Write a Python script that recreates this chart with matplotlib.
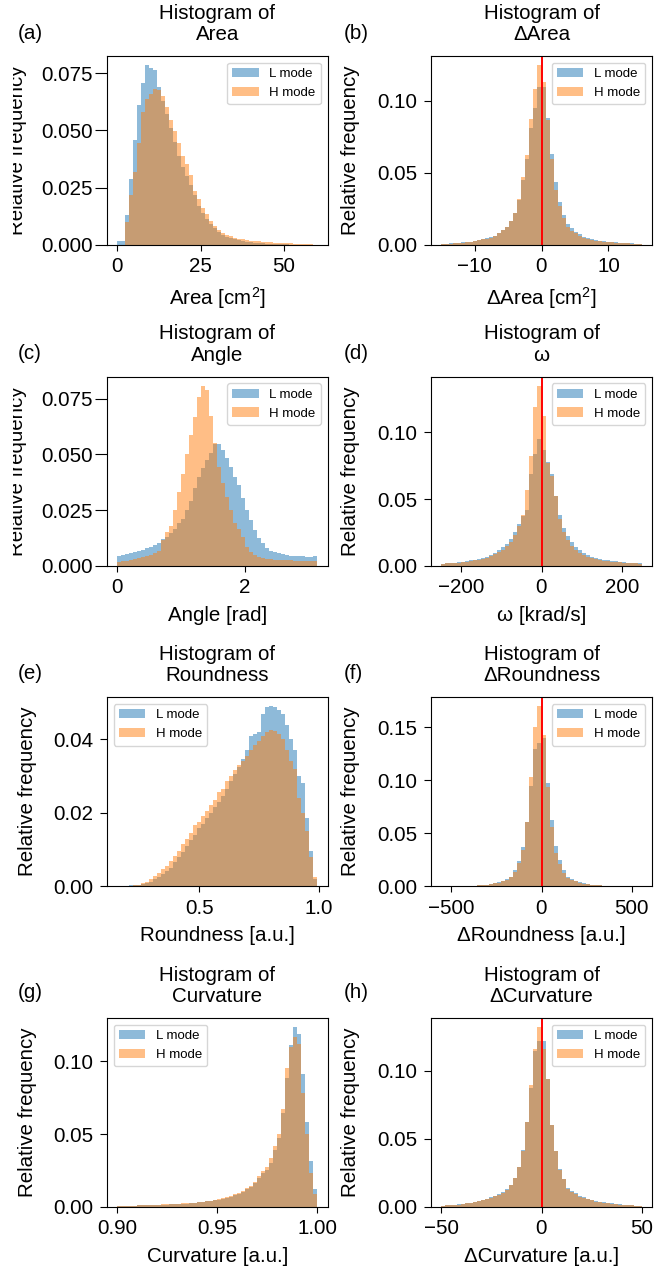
import numpy as np
import matplotlib
matplotlib.use("Agg")
import matplotlib.pyplot as plt
from matplotlib.patches import Rectangle

plt.rcParams['font.family'] = ['Liberation Sans', 'DejaVu Sans']
plt.rcParams['mathtext.fontset'] = 'custom'
plt.rcParams['mathtext.rm'] = 'Liberation Sans'
plt.rcParams['mathtext.it'] = 'Liberation Sans:italic'
plt.rcParams['mathtext.bf'] = 'Liberation Sans:bold'

# ---------------- data (relative frequency per bin, 50 bins each) ----------------
area_range = (0.0, 60.0)
area_L = [0.0016, 0.0016, 0.013, 0.029, 0.046, 0.061, 0.0706, 0.0785, 0.077, 0.0763,
          0.069, 0.063, 0.057, 0.051, 0.045, 0.039, 0.034, 0.030, 0.026, 0.022,
          0.017, 0.014, 0.0115, 0.009, 0.0072, 0.0058, 0.0045, 0.0036, 0.003, 0.0025,
          0.002, 0.0017, 0.0014, 0.0012, 0.001, 0.0008, 0.0007, 0.0006, 0.0005, 0.0004,
          0.0004, 0.0003, 0.0003, 0.0002, 0.0002, 0.0002, 0.0001, 0.0001, 0.0001, 0.0001]
area_H = [0.0, 0.0, 0.0102, 0.022, 0.032, 0.0446, 0.058, 0.0636, 0.066, 0.068,
          0.0677, 0.065, 0.060, 0.0545, 0.0497, 0.0443, 0.0387, 0.0355, 0.0304, 0.0234,
          0.020, 0.016, 0.0136, 0.0105, 0.0085, 0.0066, 0.0051, 0.0042, 0.0039, 0.0032,
          0.0028, 0.0025, 0.0022, 0.0019, 0.0019, 0.0016, 0.0015, 0.0013, 0.0013, 0.0010,
          0.0010, 0.0009, 0.0008, 0.0007, 0.0006, 0.0005, 0.0004, 0.0003, 0.0003, 0.0002]

darea_range = (-15.0, 15.0)
darea_L = [0.0008, 0.0009, 0.0011, 0.0013, 0.0015, 0.0018, 0.0021, 0.0024, 0.003, 0.0035,
           0.0042, 0.0047, 0.0053, 0.0065, 0.008, 0.0105, 0.0128, 0.017, 0.022, 0.031,
           0.045, 0.060, 0.081, 0.095, 0.110, 0.110, 0.088, 0.0635, 0.0435, 0.030,
           0.021, 0.0147, 0.0116, 0.0093, 0.0074, 0.0058, 0.0047, 0.004, 0.0035, 0.003,
           0.0027, 0.0024, 0.0021, 0.0019, 0.0017, 0.0015, 0.0013, 0.0011, 0.0009, 0.0008]
darea_H = [0.0008, 0.0009, 0.001, 0.0012, 0.0014, 0.0017, 0.002, 0.0023, 0.0028, 0.0033,
           0.004, 0.0045, 0.0052, 0.0064, 0.008, 0.0105, 0.0128, 0.017, 0.022, 0.032,
           0.047, 0.0623, 0.0877, 0.1086, 0.125, 0.113, 0.087, 0.060, 0.038, 0.027,
           0.019, 0.0128, 0.010, 0.008, 0.0063, 0.005, 0.0042, 0.0036, 0.0031, 0.0027,
           0.0024, 0.0022, 0.0019, 0.0017, 0.0015, 0.0014, 0.0012, 0.001, 0.0009, 0.0007]

angle_range = (0.0, np.pi)
angle_L = [0.0045, 0.0048, 0.0052, 0.0056, 0.0060, 0.0066, 0.0072, 0.0078, 0.0085, 0.0093,
           0.0103, 0.0118, 0.013, 0.0148, 0.0165, 0.019, 0.021, 0.025, 0.029, 0.0348,
           0.040, 0.0438, 0.0475, 0.0505, 0.0548, 0.0545, 0.052, 0.0485, 0.0445, 0.040,
           0.0363, 0.0303, 0.025, 0.0205, 0.016, 0.0123, 0.010, 0.0081, 0.0068, 0.0062,
           0.0055, 0.0051, 0.0048, 0.0045, 0.0044, 0.0043, 0.0042, 0.0041, 0.0040, 0.0042]
angle_H = [0.0018, 0.0020, 0.0023, 0.0026, 0.0029, 0.0033, 0.0037, 0.0042, 0.0048, 0.0056,
           0.0066, 0.0115, 0.015, 0.018, 0.025, 0.033, 0.041, 0.050, 0.0588, 0.0667,
           0.0757, 0.0809, 0.079, 0.0675, 0.055, 0.0445, 0.037, 0.031, 0.025, 0.019,
           0.0163, 0.013, 0.0085, 0.0063, 0.0048, 0.0037, 0.0033, 0.0030, 0.0028, 0.0027,
           0.0026, 0.0025, 0.0024, 0.0024, 0.0023, 0.0023, 0.0022, 0.0022, 0.0022, 0.0022]

omega_range = (-250.0, 250.0)
omega_L = [0.0015, 0.002, 0.0022, 0.0024, 0.0027, 0.003, 0.0035, 0.004, 0.0046, 0.0052,
           0.006, 0.0068, 0.008, 0.0095, 0.0115, 0.014, 0.0165, 0.020, 0.025, 0.031,
           0.037, 0.042, 0.069, 0.084, 0.095, 0.087, 0.078, 0.069, 0.052, 0.038,
           0.028, 0.022, 0.0175, 0.014, 0.0115, 0.0095, 0.008, 0.0068, 0.0058, 0.005,
           0.0044, 0.004, 0.0036, 0.0032, 0.0029, 0.0026, 0.0024, 0.0022, 0.002, 0.0017]
omega_H = [0.0013, 0.0017, 0.0019, 0.0021, 0.0024, 0.0027, 0.003, 0.0035, 0.004, 0.0045,
           0.0052, 0.006, 0.007, 0.0085, 0.010, 0.012, 0.015, 0.018, 0.023, 0.030,
           0.038, 0.057, 0.082, 0.119, 0.135, 0.112, 0.077, 0.067, 0.052, 0.035,
           0.025, 0.019, 0.015, 0.012, 0.0095, 0.008, 0.0068, 0.0058, 0.005, 0.0044,
           0.0039, 0.0035, 0.0031, 0.0028, 0.0026, 0.0024, 0.0022, 0.002, 0.0018, 0.0016]

round_range = (0.157, 0.993)
round_L = [0.0001, 0.0001, 0.0001, 0.0002, 0.0003, 0.0004, 0.0005, 0.0008, 0.0012, 0.0018,
           0.0025, 0.0032, 0.004, 0.005, 0.0065, 0.0078, 0.0093, 0.0108, 0.0125, 0.014,
           0.0158, 0.017, 0.0185, 0.020, 0.0215, 0.023, 0.0245, 0.0265, 0.0285, 0.0305,
           0.0325, 0.0345, 0.037, 0.041, 0.0415, 0.042, 0.047, 0.0487, 0.049, 0.0487,
           0.048, 0.047, 0.044, 0.040, 0.037, 0.030, 0.028, 0.0185, 0.0095, 0.002]
round_H = [0.0, 0.0, 0.0, 0.0001, 0.0002, 0.0004, 0.0008, 0.0012, 0.0018, 0.0026,
           0.0035, 0.0045, 0.0055, 0.0068, 0.0083, 0.0095, 0.0115, 0.0128, 0.0145, 0.0165,
           0.0175, 0.019, 0.0205, 0.022, 0.0235, 0.0255, 0.0265, 0.0285, 0.030, 0.0315,
           0.033, 0.034, 0.0355, 0.037, 0.0385, 0.0395, 0.041, 0.042, 0.0425, 0.0422,
           0.0415, 0.040, 0.037, 0.034, 0.032, 0.024, 0.020, 0.015, 0.008, 0.0025]

dround_range = (-557.0, 557.0)
dround_L = [0.0, 0.0, 0.0, 0.00005, 0.00005, 0.0001, 0.0001, 0.0002, 0.0003, 0.0005,
            0.0009, 0.0013, 0.0019, 0.0025, 0.0035, 0.0047, 0.0063, 0.0088, 0.015, 0.0237,
            0.037, 0.061, 0.095, 0.130, 0.135, 0.140, 0.097, 0.0625, 0.038, 0.0246,
            0.015, 0.0082, 0.0063, 0.005, 0.0035, 0.0025, 0.0019, 0.0013, 0.0009, 0.0005,
            0.0003, 0.0002, 0.0001, 0.0001, 0.00005, 0.00005, 0.0, 0.0, 0.0, 0.0]
dround_H = [0.0, 0.0, 0.0, 0.00005, 0.00005, 0.0001, 0.0001, 0.0002, 0.0003, 0.0005,
            0.0008, 0.0012, 0.0018, 0.0024, 0.0033, 0.0045, 0.006, 0.0085, 0.0136, 0.022,
            0.034, 0.061, 0.103, 0.150, 0.170, 0.143, 0.094, 0.056, 0.031, 0.021,
            0.012, 0.0075, 0.0058, 0.0045, 0.0032, 0.0023, 0.0017, 0.0012, 0.0008, 0.0005,
            0.0003, 0.0002, 0.0001, 0.0001, 0.00005, 0.00005, 0.0, 0.0, 0.0, 0.0]

curv_range = (0.90, 1.00)
curv_L = [0.0002, 0.0002, 0.0003, 0.0003, 0.0008, 0.0009, 0.0010, 0.0010, 0.0011, 0.0012,
          0.0013, 0.0014, 0.0015, 0.0016, 0.0018, 0.0019, 0.0020, 0.0022, 0.0024, 0.0026,
          0.0029, 0.0032, 0.0036, 0.0040, 0.0044, 0.0049, 0.0055, 0.0062, 0.0070, 0.0079,
          0.0090, 0.0102, 0.0120, 0.0135, 0.0160, 0.0195, 0.0230, 0.0255, 0.0300, 0.0390,
          0.0470, 0.0645, 0.0885, 0.1110, 0.1236, 0.1190, 0.0915, 0.0580, 0.0313, 0.0124]
curv_H = [0.0002, 0.0002, 0.0003, 0.0003, 0.0008, 0.0009, 0.0010, 0.0011, 0.0012, 0.0013,
          0.0014, 0.0016, 0.0018, 0.0019, 0.0021, 0.0022, 0.0023, 0.0024, 0.0026, 0.0028,
          0.0031, 0.0034, 0.0038, 0.0042, 0.0047, 0.0052, 0.0058, 0.0066, 0.0075, 0.0085,
          0.0096, 0.0109, 0.0128, 0.0142, 0.0170, 0.0210, 0.0245, 0.0275, 0.0336, 0.0420,
          0.0500, 0.0670, 0.0954, 0.1100, 0.1170, 0.1120, 0.0780, 0.0497, 0.0229, 0.0085]

dcurv_range = (-50.0, 50.0)
dcurv_L = [0.0008, 0.0010, 0.0012, 0.0014, 0.0017, 0.0020, 0.0026, 0.0030, 0.0035, 0.0042,
           0.0050, 0.0058, 0.0070, 0.0080, 0.0093, 0.0105, 0.013, 0.016, 0.021, 0.029,
           0.042, 0.062, 0.087, 0.114, 0.122, 0.122, 0.094, 0.060, 0.041, 0.028,
           0.0205, 0.0139, 0.0115, 0.0098, 0.0078, 0.0068, 0.0059, 0.0051, 0.0041, 0.0037,
           0.0032, 0.0027, 0.0024, 0.0020, 0.0017, 0.0015, 0.0012, 0.0010, 0.0008, 0.0007]
dcurv_H = [0.0007, 0.0009, 0.0011, 0.0013, 0.0016, 0.0019, 0.0024, 0.0028, 0.0033, 0.0039,
           0.0047, 0.0054, 0.0066, 0.0076, 0.0088, 0.0100, 0.0125, 0.016, 0.021, 0.029,
           0.041, 0.062, 0.0895, 0.116, 0.132, 0.116, 0.094, 0.060, 0.041, 0.027,
           0.020, 0.013, 0.0107, 0.0091, 0.0073, 0.0063, 0.0055, 0.0047, 0.0038, 0.0034,
           0.0030, 0.0025, 0.0022, 0.0019, 0.0016, 0.0014, 0.0011, 0.0009, 0.0008, 0.0006]

names = ["Area", "ΔArea", "Angle", "ω", "Roundness", "ΔRoundness", "Curvature", "ΔCurvature"]
xlabels = ["Area [cm$^2$]", "ΔArea [cm$^2$]", "Angle [rad]", "ω [krad/s]",
           "Roundness [a.u.]", "ΔRoundness [a.u.]", "Curvature [a.u.]", "ΔCurvature [a.u.]"]
letters = ["(a)", "(b)", "(c)", "(d)", "(e)", "(f)", "(g)", "(h)"]
xticks = [[0, 25, 50], [-10, 0, 10], [0, 2], [-200, 0, 200],
          [0.5, 1.0], [-500, 0, 500], [0.90, 0.95, 1.00], [-50, 0, 50]]
yticks = [[0, 0.025, 0.05, 0.075], [0, 0.05, 0.10], [0, 0.025, 0.05, 0.075], [0, 0.05, 0.10],
          [0, 0.02, 0.04], [0, 0.05, 0.10, 0.15], [0, 0.05, 0.10], [0, 0.05, 0.10]]
ranges = [area_range, darea_range, angle_range, omega_range,
          round_range, dround_range, curv_range, dcurv_range]
L_series = [area_L, darea_L, angle_L, omega_L, round_L, dround_L, curv_L, dcurv_L]
H_series = [area_H, darea_H, angle_H, omega_H, round_H, dround_H, curv_H, dcurv_H]

# ---------------- layout ----------------
W, H = 654, 1276
fig = plt.figure(figsize=(W / 100, H / 100), dpi=100)

cols = [(107, 327.5), (431, 652)]
rows = [(56, 245), (376.7, 565.7), (697.3, 886), (1018, 1206.7)]
letter_x = [18, 343.7]
letter_y = [33.5, 353.5, 673.5, 992.7]

FS = 14.8
for i in range(8):
    r, c = divmod(i, 2)
    l, rr = cols[c]
    t, b = rows[r]
    ax = fig.add_axes([l / W, 1 - b / H, (rr - l) / W, (b - t) / H])
    lo, hi = ranges[i]
    edges = np.linspace(lo, hi, len(L_series[i]) + 1)
    centers = 0.5 * (edges[:-1] + edges[1:])
    ax.hist(centers, bins=edges, weights=L_series[i], color='tab:blue', alpha=0.5, label='L mode')
    ax.hist(centers, bins=edges, weights=H_series[i], color='tab:orange', alpha=0.5, label='H mode')
    if c == 1:
        ax.axvline(0, color='red', lw=1.4)
    ax.set_xticks(xticks[i])
    ax.set_yticks(yticks[i])
    ax.set_title("Histogram of\n" + names[i], fontsize=FS, pad=11.5, linespacing=1.15)
    ax.set_xlabel(xlabels[i], fontsize=FS, labelpad=6)
    ax.set_ylabel("Relative frequency", fontsize=FS)
    if c == 0 and r < 2:
        ax.yaxis.set_label_coords((26.7 - l) / (rr - l), 0.5)
        ax.tick_params(axis='y', length=8.4, pad=2.0, labelsize=FS)
    else:
        ax.yaxis.set_label_coords((37 - l) / (rr - l) if c == 0 else (360.5 - l) / (rr - l), 0.5)
        ax.tick_params(axis='y', length=4.8, pad=4.8, labelsize=FS)
    ax.tick_params(axis='x', length=4.0, pad=5.0, labelsize=FS)
    loc = 'upper left' if i in (4, 6) else 'upper right'
    ax.legend(loc=loc, fontsize=9.5)
    fig.text(letter_x[c] / W, 1 - letter_y[r] / H, letters[i], fontsize=FS,
             ha='left', va='center')

# white strip that hides the left edge of the first two y labels (as in the reference)
for r in range(2):
    t, b = rows[r]
    fig.add_artist(Rectangle((0, 1 - (b + 5) / H), 12.7 / W, (b - t + 10) / H,
                             transform=fig.transFigure, facecolor='white',
                             edgecolor='none', zorder=10))

fig.savefig("out.png", dpi=100)
